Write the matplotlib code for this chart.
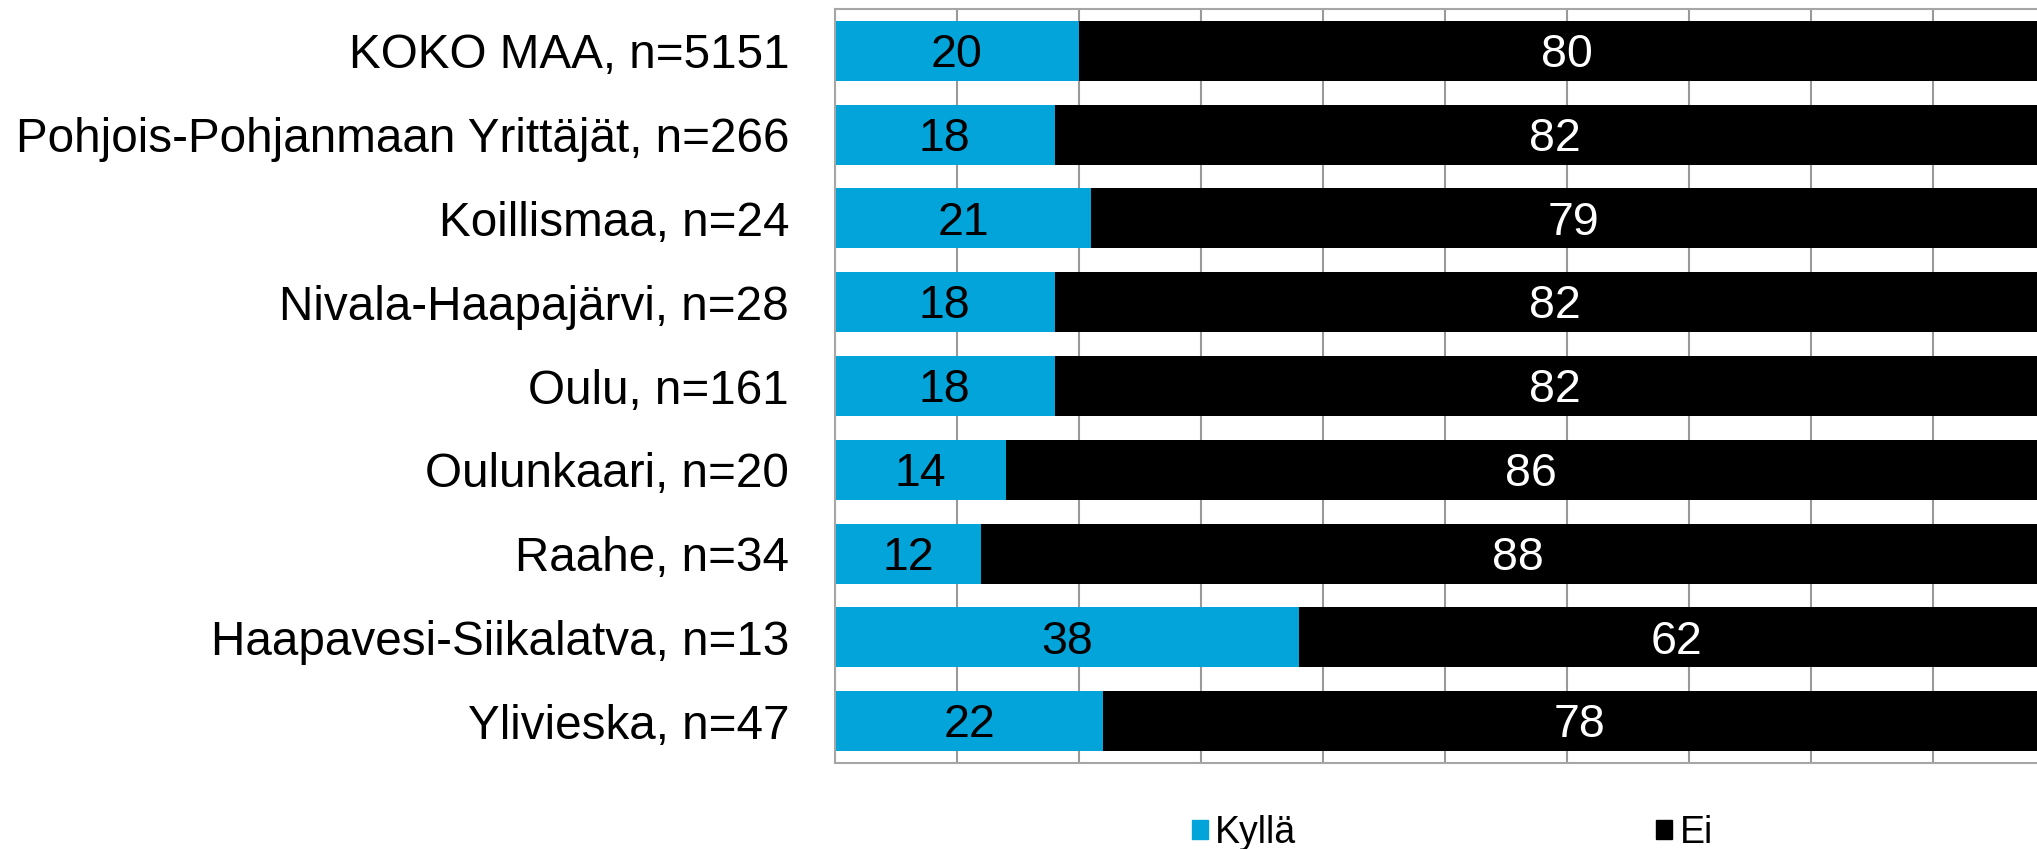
import matplotlib
matplotlib.use("Agg")
import matplotlib.pyplot as plt
from matplotlib.patches import Patch

plt.rcParams['font.family'] = ['Liberation Sans', 'DejaVu Sans']

categories = ["KOKO MAA, n=5151", "Pohjois-Pohjanmaan Yrittäjät, n=266", "Koillismaa, n=24",
              "Nivala-Haapajärvi, n=28", "Oulu, n=161", "Oulunkaari, n=20", "Raahe, n=34",
              "Haapavesi-Siikalatva, n=13", "Ylivieska, n=47"]
kylla = [20, 18, 21, 18, 18, 14, 12, 38, 22]
ei = [80, 82, 79, 82, 82, 86, 88, 62, 78]
series_names = ["Kyllä", "Ei"]
colors = ["#02A4D9", "#000000"]

fig = plt.figure(figsize=(20.37, 8.49), dpi=100)
ax = fig.add_axes([835/2037, 1-763/849, 1220/2037, 754/849])

y = list(range(len(categories)))
h = 0.716
ax.barh(y, kylla, height=h, color=colors[0], zorder=2)
ax.barh(y, ei, left=kylla, height=h, color=colors[1], zorder=2)
for yi, k, e in zip(y, kylla, ei):
    ax.text(k/2, yi + 0.05, str(k), ha='center', va='center', fontsize=33.5, color='black', zorder=3)
    ax.text(k + e/2, yi + 0.05, str(e), ha='center', va='center', fontsize=33.5, color='white', zorder=3)

ax.set_xlim(0, 100)
ax.set_ylim(len(categories)-0.5, -0.5)
ax.set_xticks(range(0, 101, 10))
ax.set_xticklabels([])
ax.tick_params(axis='x', length=0)
ax.tick_params(axis='y', length=0, pad=33, labelsize=34.3)
ax.set_yticks(y)
ax.set_yticklabels(categories)
ax.grid(axis='x', color='#999999', linewidth=1.5, zorder=1)
ax.set_axisbelow(True)
for s in ax.spines.values():
    s.set_color('#A6A6A6')
    s.set_linewidth(1.5)

handles = [Patch(color=c) for c in colors]
fig.legend(handles, series_names, loc='center left', bbox_to_anchor=(1192/2037, 1-833/849),
           ncol=2, frameon=False, fontsize=27, handlelength=0.42, handleheight=0.42,
           handletextpad=0.2, columnspacing=9.6, borderpad=0, borderaxespad=0)

fig.savefig("out.png", dpi=100)
